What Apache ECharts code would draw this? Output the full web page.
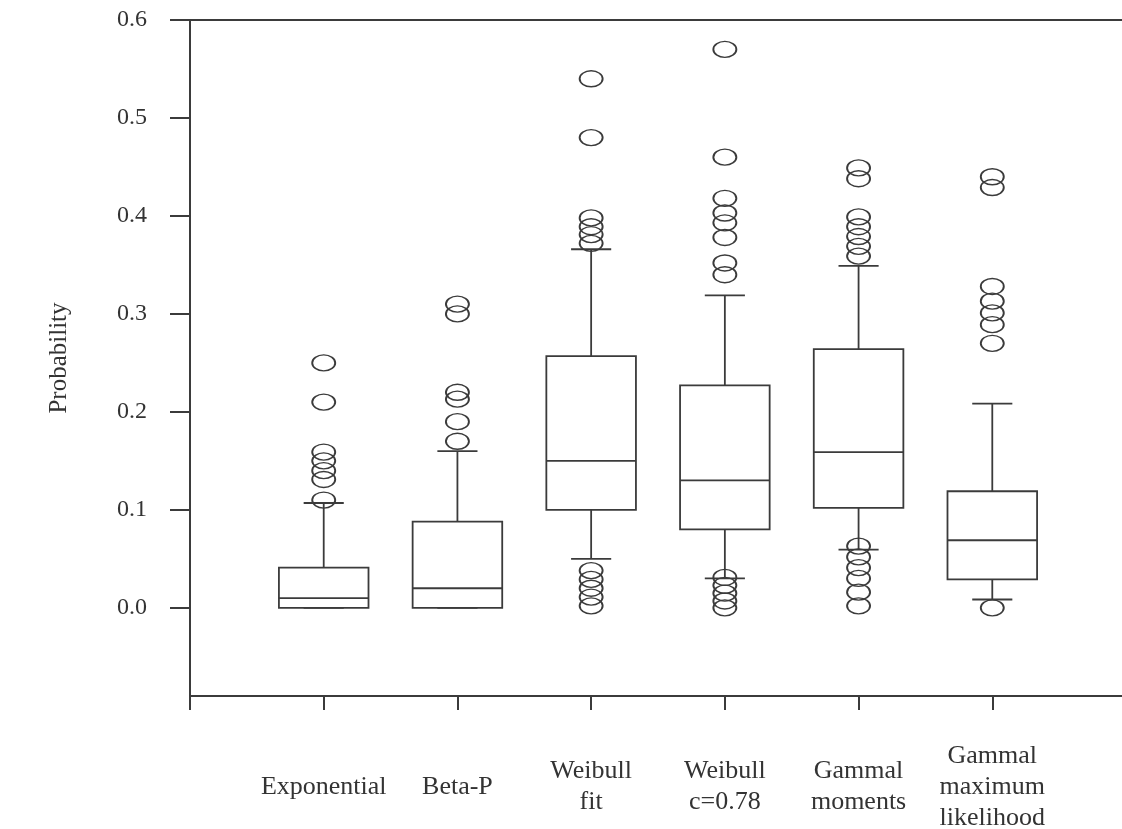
<!DOCTYPE html>
<html>
<head>
<meta charset="utf-8">
<script src="https://cdn.jsdelivr.net/npm/echarts@6/dist/echarts.min.js"></script>
<style>
  html, body { margin: 0; padding: 0; background: #ffffff; }
  #chart { width: 1122px; height: 829px; }
</style>
</head>
<body>
<div id="chart"></div>
<script>
// ---- data ----
const categories = ['', 'Exponential', 'Beta-P', 'Weibull\nfit', 'Weibull\nc=0.78', 'Gammal\nmoments', 'Gammal\nmaximum\nlikelihood', ''];
const yTicks = [0, 0.1, 0.2, 0.3, 0.4, 0.5, 0.6];

const lowWhisker  = [0.000, 0.000, 0.050, 0.030, 0.0595, 0.0085];
const q1          = [0.000, 0.000, 0.100, 0.080, 0.102, 0.029];
const median      = [0.010, 0.020, 0.150, 0.130, 0.159, 0.069];
const q3          = [0.041, 0.088, 0.257, 0.227, 0.264, 0.119];
const highWhisker = [0.107, 0.160, 0.366, 0.319, 0.349, 0.2085];

const outExponential = [0.25, 0.21, 0.159, 0.15, 0.14, 0.131, 0.11];
const outBetaP       = [0.31, 0.30, 0.22, 0.213, 0.19, 0.17];
const outWeibullFit  = [0.54, 0.48, 0.398, 0.389, 0.381, 0.372, 0.038, 0.029, 0.02, 0.011, 0.002];
const outWeibullC    = [0.57, 0.46, 0.418, 0.403, 0.393, 0.378, 0.352, 0.34, 0.031, 0.023, 0.015, 0.007, 0.0];
const outGammaMom    = [0.449, 0.438, 0.399, 0.389, 0.379, 0.369, 0.359, 0.063, 0.052, 0.041, 0.03, 0.016, 0.002];
const outGammaML     = [0.44, 0.429, 0.328, 0.313, 0.301, 0.289, 0.27, 0.0];

// ---- build ----
const outlierGroups = [outExponential, outBetaP, outWeibullFit, outWeibullC, outGammaMom, outGammaML];
const boxData = lowWhisker.map((lo, k) => [k + 1, lo, q1[k], median[k], q3[k], highWhisker[k]]);
const outlierData = [];
outlierGroups.forEach((arr, k) => arr.forEach(v => outlierData.push([k + 1, v])));

const INK = '#3b3b3b';
const FONT = '"Liberation Serif", "DejaVu Serif", serif';

function renderBox(params, api) {
  const x = api.value(0);
  const band = api.size([1, 0])[0];
  const hw = band * 0.335;
  const cw = band * 0.15;
  const pLo = api.coord([x, api.value(1)]);
  const pQ1 = api.coord([x, api.value(2)]);
  const pMd = api.coord([x, api.value(3)]);
  const pQ3 = api.coord([x, api.value(4)]);
  const pHi = api.coord([x, api.value(5)]);
  const cx = pMd[0];
  const st = { stroke: INK, lineWidth: 1.8, fill: null };
  const line = (x1, y1, x2, y2) => ({ type: 'line', shape: { x1, y1, x2, y2 }, style: st });
  return {
    type: 'group',
    children: [
      { type: 'rect', shape: { x: cx - hw, y: pQ3[1], width: 2 * hw, height: pQ1[1] - pQ3[1] }, style: { stroke: INK, lineWidth: 1.8, fill: 'rgba(0,0,0,0)' } },
      line(cx - hw, pMd[1], cx + hw, pMd[1]),
      line(cx, pQ3[1], cx, pHi[1]),
      line(cx - cw, pHi[1], cx + cw, pHi[1]),
      line(cx, pQ1[1], cx, pLo[1]),
      line(cx - cw, pLo[1], cx + cw, pLo[1])
    ]
  };
}

const chart = echarts.init(document.getElementById('chart'), null, { renderer: 'canvas' });
chart.setOption({
  animation: false,
  backgroundColor: '#ffffff',
  grid: {
    left: 190, top: 20, right: -4, bottom: 133,
    containLabel: false, outerBoundsMode: 'none',
    show: true, borderColor: INK, borderWidth: 2, backgroundColor: 'transparent'
  },
  xAxis: {
    type: 'category',
    data: categories,
    boundaryGap: false,
    axisLine: { show: true, onZero: false, lineStyle: { color: INK, width: 2 } },
    axisTick: { show: true, inside: false, length: 14, interval: 0, lineStyle: { color: INK, width: 2 } },
    axisLabel: {
      interval: 0, margin: 91, verticalAlign: 'middle', align: 'center',
      color: '#333', fontFamily: FONT, fontSize: 26, lineHeight: 31
    },
    splitLine: { show: false }
  },
  yAxis: {
    type: 'value',
    min: -0.09,
    max: 0.6,
    name: 'Probability',
    nameLocation: 'middle',
    nameRotate: 90,
    nameGap: 118,
    nameTextStyle: { color: '#333', fontFamily: FONT, fontSize: 25 },
    axisLine: { show: true, lineStyle: { color: INK, width: 2 } },
    axisTick: { show: true, inside: false, length: 20, customValues: yTicks, lineStyle: { color: INK, width: 2 } },
    axisLabel: {
      customValues: yTicks, margin: 43, color: '#333', fontFamily: FONT, fontSize: 24,
      formatter: v => v.toFixed(1)
    },
    splitLine: { show: false }
  },
  series: [
    {
      type: 'custom',
      renderItem: renderBox,
      data: boxData,
      encode: { x: 0, y: [1, 2, 3, 4, 5] },
      silent: true,
      z: 2
    },
    {
      type: 'scatter',
      data: outlierData,
      symbol: 'path://M0,8A11,8,0,1,1,22,8A11,8,0,1,1,0,8Z',
      symbolSize: [23, 16],
      itemStyle: { color: 'rgba(0,0,0,0)', borderColor: INK, borderWidth: 1.6, opacity: 1 },
      silent: true,
      z: 3
    }
  ]
});
</script>
</body>
</html>
